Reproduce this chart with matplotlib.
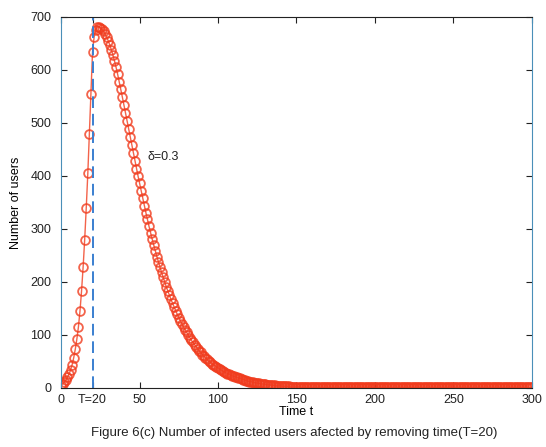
import numpy as np
import matplotlib.pyplot as plt

plt.rcParams['font.family'] = ['Liberation Sans', 'DejaVu Sans']

# infected users, one value per time step t = 0..300
infected = [
    5, 8, 11, 15, 20, 26, 34, 44, 57, 73,
    92, 115, 145, 183, 228, 280, 340, 405, 480, 555,
    634, 662, 676, 681, 682, 680, 677, 673, 668, 662,
    655, 647, 638, 628, 617, 605, 592, 578, 564, 549,
    534, 519, 504, 489, 474, 459, 444, 429, 414, 400,
    386, 372, 358, 344, 331, 318, 305, 293, 281, 270,
    259, 248, 238, 228, 218, 209, 200, 191, 183, 175,
    167, 160, 153, 146, 139, 133, 127, 121, 115, 110,
    105, 100, 95, 90, 86, 82, 78, 74, 70, 67,
    63, 60, 57, 54, 51, 49, 46, 44, 42, 40,
    38, 36, 34, 32, 30, 29, 27, 26, 24, 23,
    22, 21, 20, 19, 18, 17, 16, 15, 14, 13,
    12, 12, 11, 10, 10, 9, 9, 8, 8, 7,
    7, 6, 6, 6, 5, 5, 5, 4, 4, 4,
    4, 3, 3, 3, 3, 3, 2, 2, 2, 2,
    2, 2, 2, 1, 1, 1, 1, 1, 1, 1,
    1, 1, 1, 1, 1, 1, 1, 1, 1, 1,
    1, 1, 1, 1, 1, 1, 1, 1, 1, 1,
    1, 1, 1, 1, 1, 1, 1, 1, 1, 1,
    1, 1, 1, 1, 1, 1, 1, 1, 1, 1,
    1, 1, 1, 1, 1, 1, 1, 1, 1, 1,
    1, 1, 1, 1, 1, 1, 1, 1, 1, 1,
    1, 1, 1, 1, 1, 1, 1, 1, 1, 1,
    1, 1, 1, 1, 1, 1, 1, 1, 1, 1,
    1, 1, 1, 1, 1, 1, 1, 1, 1, 1,
    1, 1, 1, 1, 1, 1, 1, 1, 1, 1,
    1, 1, 1, 1, 1, 1, 1, 1, 1, 1,
    1, 1, 1, 1, 1, 1, 1, 1, 1, 1,
    1, 1, 1, 1, 1, 1, 1, 1, 1, 1,
    1, 1, 1, 1, 1, 1, 1, 1, 1, 1,
    1,
]
t = np.arange(len(infected))

T_remove = 20
delta_label = 'δ=0.3'
xticks = [0, 20, 50, 100, 150, 200, 250, 300]
xticklabels = ['0', 'T=20', '50', '100', '150', '200', '250', '300']
yticks = [0, 100, 200, 300, 400, 500, 600, 700]

fig = plt.figure(figsize=(5.46, 4.47), dpi=100)
ax = fig.add_axes([0.112, 0.132, 0.862, 0.830])

ax.plot(t, infected, '-o', color='#f03c1e', lw=1.0, markersize=6.3,
        markerfacecolor='none', markeredgewidth=1.3, alpha=0.8)
ax.axvline(T_remove, color='#3a7fd0', lw=1.4, ls=(0, (6, 3)))

ax.set_xlim(0, 300)
ax.set_ylim(0, 700)
ax.set_xticks(xticks)
ax.set_xticklabels(xticklabels)
ax.set_yticks(yticks)
ax.tick_params(direction='in', length=4, labelsize=9, top=True, right=True,
               colors='#222222')
ax.xaxis.set_tick_params(pad=4)
ax.yaxis.set_tick_params(pad=7)

for side in ['left', 'right']:
    ax.spines[side].set_color('#4a8fb8')
for side in ['top', 'bottom']:
    ax.spines[side].set_color('#222222')

ax.text(55, 430, delta_label, fontsize=9, color='#222222')
ax.set_xlabel('Time t', fontsize=9, labelpad=0)
ax.set_ylabel('Number of users', fontsize=9, labelpad=6)

fig.text(0.538, 0.025, 'Figure 6(c) Number of infected users afected by removing time(T=20)',
         ha='center', fontsize=9.5, color='#222222')

fig.savefig('out.png', dpi=100)
